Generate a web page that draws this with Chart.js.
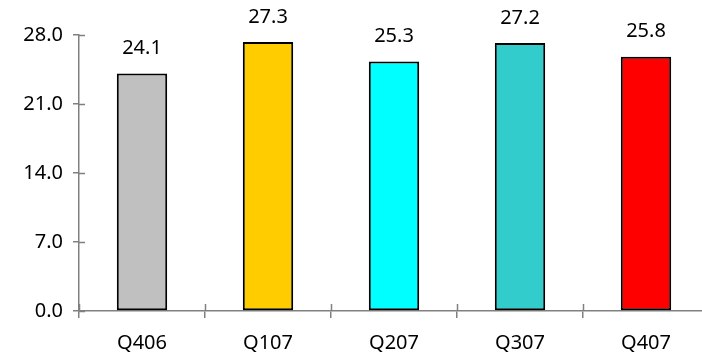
<!DOCTYPE html>
<html>
<head>
<meta charset="utf-8">
<script src="https://cdn.jsdelivr.net/npm/chart.js@4"></script>
<style>
  html, body { margin: 0; padding: 0; background: #fff; overflow: hidden; }
  #wrap { width: 709px; height: 362px; }
</style>
</head>
<body>
<div id="wrap"><canvas id="myChart" width="709" height="362"></canvas></div>
<script>
// quarters and values
var quarters = ["Q406", "Q107", "Q207", "Q307", "Q407"];
var values = [24.1, 27.3, 25.3, 27.2, 25.8];
var barColors = ["#C0C0C0", "#FFCC00", "#00FFFF", "#33CCCC", "#FF0000"];
var yTicks = [0, 7, 14, 21, 28];

var axisGray = "#808080";
var font = { family: "'Noto Sans', 'DejaVu Sans', sans-serif", size: 20 };

// writes the value above each bar
var valueLabels = {
  id: "valueLabels",
  afterDatasetsDraw: function(chart) {
    var ctx = chart.ctx;
    var meta = chart.getDatasetMeta(0);
    ctx.save();
    ctx.font = "20px " + font.family;
    ctx.fillStyle = "#000";
    ctx.textAlign = "center";
    ctx.textBaseline = "middle";
    meta.data.forEach(function(bar, i) {
      ctx.fillText(values[i].toFixed(1), bar.x, bar.y - 25);
    });
    ctx.restore();
  }
};

// tick marks cross the axis lines, so draw the inner half too
var innerTicks = {
  id: "innerTicks",
  afterDraw: function(chart) {
    var ctx = chart.ctx;
    var area = chart.chartArea;
    var xs = chart.scales.x, ys = chart.scales.y;
    ctx.save();
    ctx.strokeStyle = axisGray;
    ctx.lineWidth = 1.5;
    ctx.beginPath();
    yTicks.forEach(function(v) {
      var y = Math.round(ys.getPixelForValue(v)) + 0.5;
      ctx.moveTo(area.left, y);
      ctx.lineTo(area.left + 6, y);
    });
    for (var i = 0; i <= quarters.length; i++) {
      var x = Math.round(xs.getPixelForValue(i - 0.5)) + 0.5;
      ctx.moveTo(x, area.bottom);
      ctx.lineTo(x, area.bottom - 7);
    }
    ctx.stroke();
    ctx.restore();
  }
};

var ctx = document.getElementById("myChart").getContext("2d");
var chart = new Chart(ctx, {
  type: "bar",
  data: {
    labels: quarters,
    datasets: [{
      data: values,
      backgroundColor: barColors,
      borderColor: "#000",
      borderWidth: 2,
      borderSkipped: false,
      categoryPercentage: 1,
      barPercentage: 0.4
    }]
  },
  options: {
    responsive: false,
    animation: false,
    layout: { padding: { top: 35, right: 0, bottom: 0, left: 0 } },
    plugins: { legend: { display: false }, tooltip: { enabled: false } },
    scales: {
      x: {
        grid: { offset: true, drawOnChartArea: false, color: axisGray, tickLength: 7, lineWidth: 1.5 },
        border: { color: axisGray, width: 1.5 },
        ticks: { color: "#000", font: font, padding: 13, maxRotation: 0 },
        afterFit: function(scale) { scale.height = 51; }
      },
      y: {
        min: 0,
        max: 28,
        afterBuildTicks: function(scale) {
          scale.ticks = yTicks.map(function(v) { return { value: v }; });
        },
        grid: { drawOnChartArea: false, color: axisGray, tickLength: 6, lineWidth: 1.5 },
        border: { color: axisGray, width: 1.5 },
        ticks: {
          color: "#000",
          font: font,
          padding: 10,
          callback: function(v) { return Number(v).toFixed(1); }
        },
        afterFit: function(scale) { scale.width = 79; }
      }
    }
  },
  plugins: [valueLabels, innerTicks]
});
</script>
</body>
</html>
